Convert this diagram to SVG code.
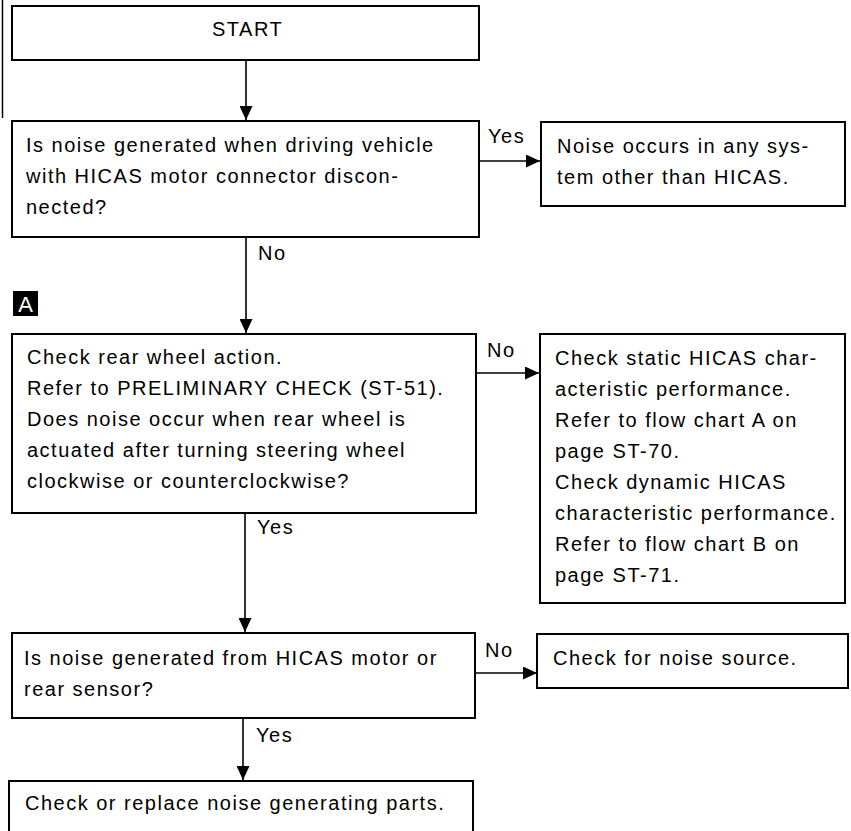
<svg xmlns="http://www.w3.org/2000/svg" width="851" height="831" viewBox="0 0 851 831">
<style>
.box{fill:#fff;stroke:#000;stroke-width:2}
.t{font-family:"Liberation Sans",Arial,sans-serif;font-size:20px;letter-spacing:1.5px;fill:#000}
.c{stroke:#000;stroke-width:1.6;fill:none}
</style>
<defs>
<marker id="ah" markerUnits="userSpaceOnUse" markerWidth="14" markerHeight="13" refX="14" refY="6.5" orient="auto">
<path d="M0,0 L14,6.5 L0,13 Z" fill="#000"/>
</marker>
</defs>
<rect width="851" height="831" fill="#fff"/>
<line x1="2.5" y1="0" x2="2.5" y2="118" stroke="#000" stroke-width="1.5"/>
<g id="connectors">
<line class="c" x1="246" y1="60" x2="246" y2="120" marker-end="url(#ah)"/>
<line class="c" x1="479" y1="161" x2="540" y2="161" marker-end="url(#ah)"/>
<line class="c" x1="246" y1="237" x2="246" y2="333" marker-end="url(#ah)"/>
<line class="c" x1="476" y1="373" x2="539" y2="373" marker-end="url(#ah)"/>
<line class="c" x1="245" y1="513" x2="245" y2="632" marker-end="url(#ah)"/>
<line class="c" x1="475" y1="673" x2="537" y2="673" marker-end="url(#ah)"/>
<line class="c" x1="243" y1="718" x2="243" y2="780" marker-end="url(#ah)"/>
<text class="t" x="488" y="143">Yes</text>
<text class="t" x="258" y="260">No</text>
<text class="t" x="487" y="357">No</text>
<text class="t" x="257" y="534">Yes</text>
<text class="t" x="485" y="657">No</text>
<text class="t" x="256" y="742">Yes</text>
</g>
<g id="start">
<rect class="box" x="12" y="6" width="467" height="54"/>
<text class="t" x="212" y="36">START</text>
</g>
<g id="q1">
<rect class="box" x="12" y="121" width="467" height="116"/>
<text class="t" x="26" y="152">Is noise generated when driving vehicle</text>
<text class="t" x="26" y="183">with HICAS motor connector discon-</text>
<text class="t" x="26" y="214">nected?</text>
</g>
<g id="other-system">
<rect class="box" x="541" y="122" width="304" height="84"/>
<text class="t" x="557" y="153">Noise occurs in any sys-</text>
<text class="t" x="557" y="184">tem other than HICAS.</text>
</g>
<g id="marker-a">
<rect x="13" y="291" width="25" height="25" fill="#000"/>
<text x="25.5" y="312" text-anchor="middle" font-family="Liberation Sans,Arial,sans-serif" font-size="22" fill="#fff">A</text>
</g>
<g id="q2">
<rect class="box" x="12" y="334" width="464" height="179"/>
<text class="t" x="27" y="364">Check rear wheel action.</text>
<text class="t" x="27" y="395">Refer to PRELIMINARY CHECK (ST-51).</text>
<text class="t" x="27" y="426">Does noise occur when rear wheel is</text>
<text class="t" x="27" y="457">actuated after turning steering wheel</text>
<text class="t" x="27" y="488">clockwise or counterclockwise?</text>
</g>
<g id="check-static">
<rect class="box" x="540" y="334" width="305" height="269"/>
<text class="t" x="555" y="365">Check static HICAS char-</text>
<text class="t" x="555" y="396">acteristic performance.</text>
<text class="t" x="555" y="427">Refer to flow chart A on</text>
<text class="t" x="555" y="458">page ST-70.</text>
<text class="t" x="555" y="489">Check dynamic HICAS</text>
<text class="t" x="555" y="520">characteristic performance.</text>
<text class="t" x="555" y="551">Refer to flow chart B on</text>
<text class="t" x="555" y="582">page ST-71.</text>
</g>
<g id="q3">
<rect class="box" x="12" y="633" width="463" height="85"/>
<text class="t" x="24" y="665">Is noise generated from HICAS motor or</text>
<text class="t" x="24" y="696">rear sensor?</text>
</g>
<g id="noise-source">
<rect class="box" x="537" y="634" width="311" height="54"/>
<text class="t" x="553" y="665">Check for noise source.</text>
</g>
<g id="replace">
<rect class="box" x="9" y="781" width="464" height="70"/>
<text class="t" x="25" y="810">Check or replace noise generating parts.</text>
</g>
</svg>
